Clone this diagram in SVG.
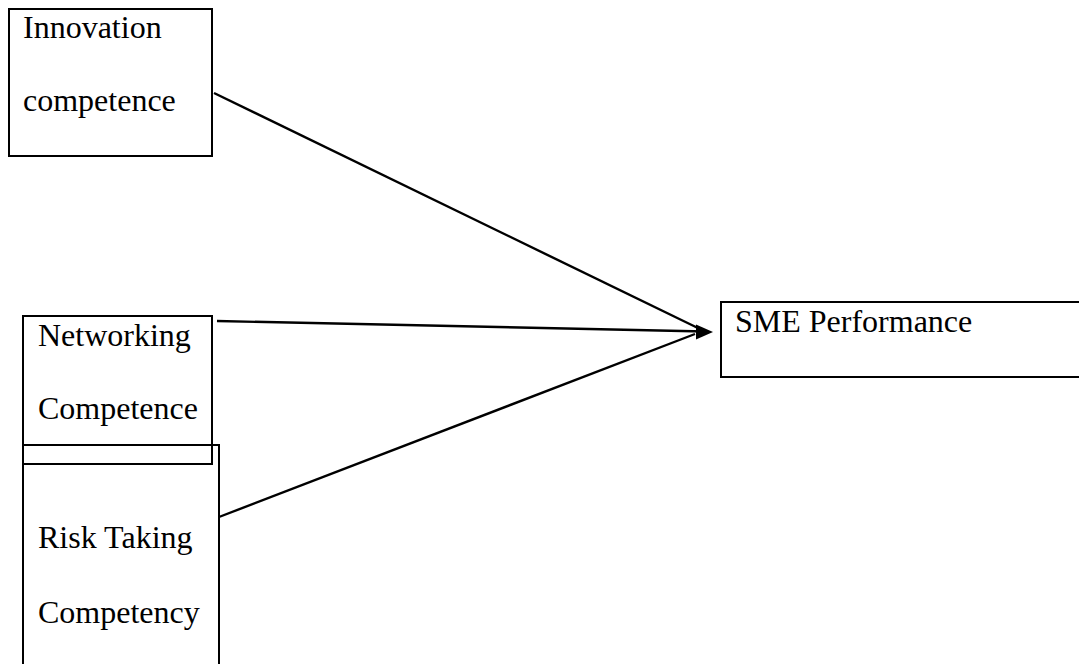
<svg xmlns="http://www.w3.org/2000/svg" width="1079" height="664" viewBox="0 0 1079 664">
<style>
.box{fill:#fff;stroke:#000;stroke-width:2}
.t{font-family:"Liberation Serif","Times New Roman",serif;font-size:32px;fill:#000}
.c{stroke:#000;stroke-width:2.4;fill:none}
</style>
<rect width="1079" height="664" fill="#fff"/>
<g id="n-innovation">
<rect class="box" x="9" y="9" width="203" height="147"/>
<text class="t" x="23" y="38">Innovation</text>
<text class="t" x="23" y="111">competence</text>
</g>
<g id="n-risk">
<rect class="box" x="23" y="445" width="196" height="225"/>
<text class="t" x="38" y="548">Risk Taking</text>
<text class="t" x="38" y="623">Competency</text>
</g>
<g id="n-networking">
<rect class="box" x="23" y="316" width="189" height="148" style="fill:none"/>
<text class="t" x="38" y="346">Networking</text>
<text class="t" x="38" y="419">Competence</text>
</g>
<g id="n-sme">
<rect class="box" x="721" y="302" width="362" height="75"/>
<text class="t" x="735" y="332">SME Performance</text>
</g>
<g id="connectors">
<line class="c" x1="214" y1="93" x2="702" y2="330"/>
<line class="c" x1="217" y1="321" x2="705" y2="331.5"/>
<line class="c" x1="219" y1="517" x2="695" y2="334"/>
<path d="M696,324.5 L713,332 L696,339.5 z" fill="#000"/>
</g>
</svg>
